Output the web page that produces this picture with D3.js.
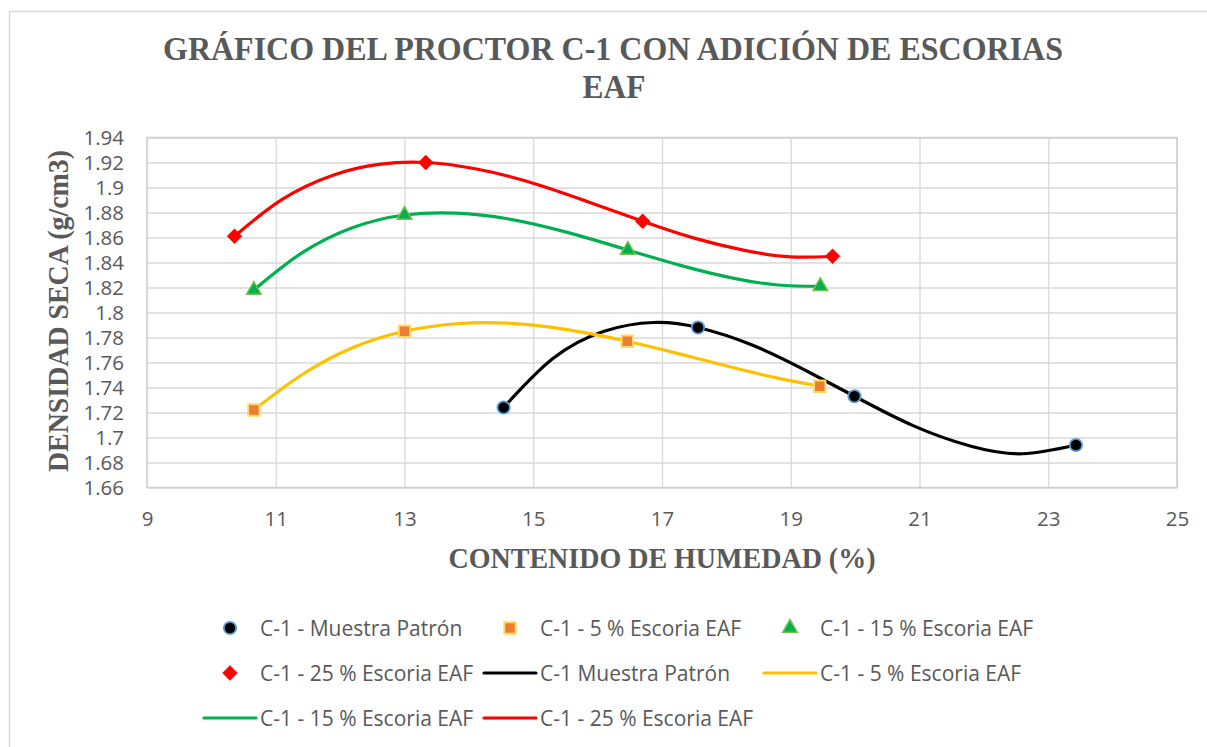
<!DOCTYPE html>
<html>
<head>
<meta charset="utf-8">
<script src="https://cdn.jsdelivr.net/npm/d3@7"></script>
<style>
  body { margin: 0; background: #fff; }
  svg { display: block; }
</style>
</head>
<body>
<svg class="proctor" width="1207" height="747"></svg>
<script>
  // marker series (measured points)
  const muestraX = [14.54, 17.56, 19.99, 23.43];
  const muestraY = [1.724, 1.788, 1.733, 1.694];
  const esc5X = [10.66, 13.0, 16.46, 19.45];
  const esc5Y = [1.722, 1.785, 1.777, 1.741];
  const esc15X = [10.66, 13.0, 16.47, 19.46];
  const esc15Y = [1.818, 1.878, 1.850, 1.821];
  const esc25X = [10.36, 13.33, 16.70, 19.65];
  const esc25Y = [1.861, 1.920, 1.873, 1.845];

  // line series (smooth curves)
  const lineMuestraX = [14.54, 15.3, 16.1, 16.87, 17.56, 18.4, 19.2, 19.99, 20.9, 21.8, 22.6, 23.43];
  const lineMuestraY = [1.724, 1.763, 1.785, 1.792, 1.788, 1.774, 1.7545, 1.733, 1.7095, 1.693, 1.687, 1.694];
  const line5X = [10.66, 11.4, 12.2, 13.0, 13.8, 14.6, 15.5, 16.46, 17.3, 18.1, 18.8, 19.45];
  const line5Y = [1.722, 1.750, 1.772, 1.785, 1.791, 1.7915, 1.7865, 1.777, 1.7665, 1.756, 1.7475, 1.741];
  const line15X = [10.66, 11.4, 12.2, 13.0, 13.8, 14.6, 15.5, 16.47, 17.3, 18.1, 18.8, 19.46];
  const line15Y = [1.818, 1.8475, 1.868, 1.878, 1.8795, 1.875, 1.8645, 1.850, 1.8375, 1.8275, 1.822, 1.821];
  const line25X = [10.36, 11.1, 11.9, 12.6, 13.33, 14.1, 14.9, 15.8, 16.7, 17.5, 18.3, 19.0, 19.65];
  const line25Y = [1.861, 1.8905, 1.910, 1.9185, 1.920, 1.915, 1.905, 1.8895, 1.873, 1.8595, 1.8495, 1.8445, 1.845];

  const xTicks = [9, 11, 13, 15, 17, 19, 21, 23, 25];
  const yTicks = [1.66, 1.68, 1.70, 1.72, 1.74, 1.76, 1.78, 1.80, 1.82, 1.84, 1.86, 1.88, 1.90, 1.92, 1.94];
  const yTickLabels = ['1.66', '1.68', '1.7', '1.72', '1.74', '1.76', '1.78', '1.8', '1.82', '1.84', '1.86', '1.88', '1.9', '1.92', '1.94'];

  const markerNames = ['C-1 - Muestra Patrón', 'C-1 - 5 % Escoria EAF', 'C-1 - 15 % Escoria EAF', 'C-1 - 25 % Escoria EAF'];
  const lineNames = ['C-1 Muestra Patrón', 'C-1 - 5 % Escoria EAF', 'C-1 - 15 % Escoria EAF', 'C-1 - 25 % Escoria EAF'];

  const textGray = '#595959';
  const gridGray = '#d9d9d9';

  const svg = d3.select('.proctor');
  const width = +svg.attr('width');
  const height = +svg.attr('height');

  const margin = { top: 137.5, right: 30, bottom: 259.5, left: 147 };
  const innerWidth = width - margin.left - margin.right;
  const innerHeight = height - margin.top - margin.bottom;

  // chart area frame (only left/top edges show)
  svg.append('rect')
    .attr('x', 9.5).attr('y', 11.5)
    .attr('width', width + 10).attr('height', height + 10)
    .attr('fill', '#fff')
    .attr('stroke', gridGray)
    .attr('stroke-width', 1.5);

  const xScale = d3.scaleLinear().domain([9, 25]).range([0, innerWidth]);
  const yScale = d3.scaleLinear().domain([1.66, 1.94]).range([innerHeight, 0]);

  const g = svg.append('g')
    .attr('transform', `translate(${margin.left},${margin.top})`);

  // gridlines
  g.append('g')
    .call(d3.axisLeft(yScale).tickValues(yTicks).tickSize(-innerWidth).tickFormat(''))
    .call(s => s.select('.domain').remove())
    .call(s => s.selectAll('line').attr('stroke', gridGray).attr('stroke-width', 1.3));
  g.append('g')
    .attr('transform', `translate(0,${innerHeight})`)
    .call(d3.axisBottom(xScale).tickValues(xTicks).tickSize(-innerHeight).tickFormat(''))
    .call(s => s.select('.domain').remove())
    .call(s => s.selectAll('line').attr('stroke', gridGray).attr('stroke-width', 1.3));

  g.append('rect')
    .attr('width', innerWidth).attr('height', innerHeight)
    .attr('fill', 'none')
    .attr('stroke', '#cfcfcf')
    .attr('stroke-width', 1.5);

  // tick labels
  const yAxis = g.append('g')
    .call(d3.axisLeft(yScale).tickValues(yTicks).tickSize(0).tickPadding(23)
      .tickFormat((d, i) => yTickLabels[i]));
  const xAxis = g.append('g')
    .attr('transform', `translate(0,${innerHeight})`)
    .call(d3.axisBottom(xScale).tickValues(xTicks).tickSize(0).tickPadding(24));
  [yAxis, xAxis].forEach(a => {
    a.select('.domain').remove();
    a.selectAll('text')
      .attr('fill', textGray)
      .style('font-family', '"Open Sans", sans-serif')
      .style('font-size', '20.5px');
  });

  // curves
  const series = [
    { xs: lineMuestraX, ys: lineMuestraY, color: '#000000' },
    { xs: line5X, ys: line5Y, color: '#ffc000' },
    { xs: line15X, ys: line15Y, color: '#00b050' },
    { xs: line25X, ys: line25Y, color: '#ff0000' }
  ];
  const lineGen = d3.line()
    .x(d => xScale(d[0]))
    .y(d => yScale(d[1]))
    .curve(d3.curveNatural);
  g.selectAll('.curve').data(series)
    .enter().append('path')
      .attr('class', 'curve')
      .attr('d', s => lineGen(s.xs.map((x, i) => [x, s.ys[i]])))
      .attr('fill', 'none')
      .attr('stroke', s => s.color)
      .attr('stroke-width', 3.2)
      .attr('stroke-linecap', 'round');

  // marker styles
  const markerStyles = [
    { type: d3.symbolCircle, size: 120, fill: '#000000', stroke: '#5b9bd5', sw: 1.8, rot: 0 },
    { type: d3.symbolSquare, size: 130, fill: '#ed7d31', stroke: '#ffd966', sw: 2, rot: 0 },
    { type: d3.symbolTriangle, size: 92, fill: '#00b050', stroke: '#70c24a', sw: 1.5, rot: 0 },
    { type: d3.symbolSquare, size: 110, fill: '#ff0000', stroke: '#ff0000', sw: 0.5, rot: 45 }
  ];
  const pointSets = [
    { xs: muestraX, ys: muestraY },
    { xs: esc5X, ys: esc5Y },
    { xs: esc15X, ys: esc15Y },
    { xs: esc25X, ys: esc25Y }
  ];
  pointSets.forEach((p, k) => {
    const st = markerStyles[k];
    g.append('g').selectAll('path')
      .data(p.xs.map((x, i) => [x, p.ys[i]]))
      .enter().append('path')
        .attr('d', d3.symbol().type(st.type).size(st.size))
        .attr('transform', d => `translate(${xScale(d[0])},${yScale(d[1])}) rotate(${st.rot})`)
        .attr('fill', st.fill)
        .attr('stroke', st.stroke)
        .attr('stroke-width', st.sw);
  });

  // titles
  const serif = '"Liberation Serif", "Times New Roman", serif';
  svg.append('text')
    .attr('x', 613).attr('y', 60)
    .attr('text-anchor', 'middle')
    .attr('textLength', 900).attr('lengthAdjust', 'spacingAndGlyphs')
    .style('font-family', serif).style('font-weight', 'bold').style('font-size', '33px')
    .attr('fill', textGray)
    .text('GRÁFICO DEL PROCTOR C-1 CON ADICIÓN DE ESCORIAS');
  svg.append('text')
    .attr('x', 614).attr('y', 98)
    .attr('text-anchor', 'middle')
    .attr('textLength', 63).attr('lengthAdjust', 'spacingAndGlyphs')
    .style('font-family', serif).style('font-weight', 'bold').style('font-size', '33px')
    .attr('fill', textGray)
    .text('EAF');

  svg.append('text')
    .attr('transform', 'translate(68,311) rotate(-90)')
    .attr('text-anchor', 'middle')
    .attr('textLength', 322).attr('lengthAdjust', 'spacingAndGlyphs')
    .style('font-family', serif).style('font-weight', 'bold').style('font-size', '30px')
    .attr('fill', textGray)
    .text('DENSIDAD SECA (g/cm3)');

  svg.append('text')
    .attr('x', margin.left + innerWidth / 2).attr('y', 568)
    .attr('text-anchor', 'middle')
    .attr('textLength', 427).attr('lengthAdjust', 'spacingAndGlyphs')
    .style('font-family', serif).style('font-weight', 'bold').style('font-size', '30px')
    .attr('fill', textGray)
    .text('CONTENIDO DE HUMEDAD (%)');

  // legend
  const legendItems = markerNames.map((n, i) => ({ name: n, marker: i }))
    .concat(lineNames.map((n, i) => ({ name: n, line: i })));
  const colX = [203, 483, 763];
  const rowY = [628, 673, 718];
  const legend = svg.append('g');
  legendItems.forEach((item, i) => {
    const cx = colX[i % 3];
    const cy = rowY[Math.floor(i / 3)];
    const e = legend.append('g').attr('transform', `translate(${cx},${cy})`);
    if (item.marker !== undefined) {
      const st = markerStyles[item.marker];
      e.append('path')
        .attr('d', d3.symbol().type(st.type).size(st.size))
        .attr('transform', `translate(27,0) rotate(${st.rot})`)
        .attr('fill', st.fill)
        .attr('stroke', st.stroke)
        .attr('stroke-width', st.sw);
    } else {
      e.append('line')
        .attr('x1', 1).attr('x2', 53)
        .attr('stroke', series[item.line].color)
        .attr('stroke-width', 3.2)
        .attr('stroke-linecap', 'round');
    }
    e.append('text')
      .attr('x', 57).attr('y', 7.5)
      .attr('fill', textGray)
      .style('font-family', '"Open Sans", sans-serif')
      .style('font-size', '21px')
      .text(item.name);
  });
</script>
</body>
</html>
